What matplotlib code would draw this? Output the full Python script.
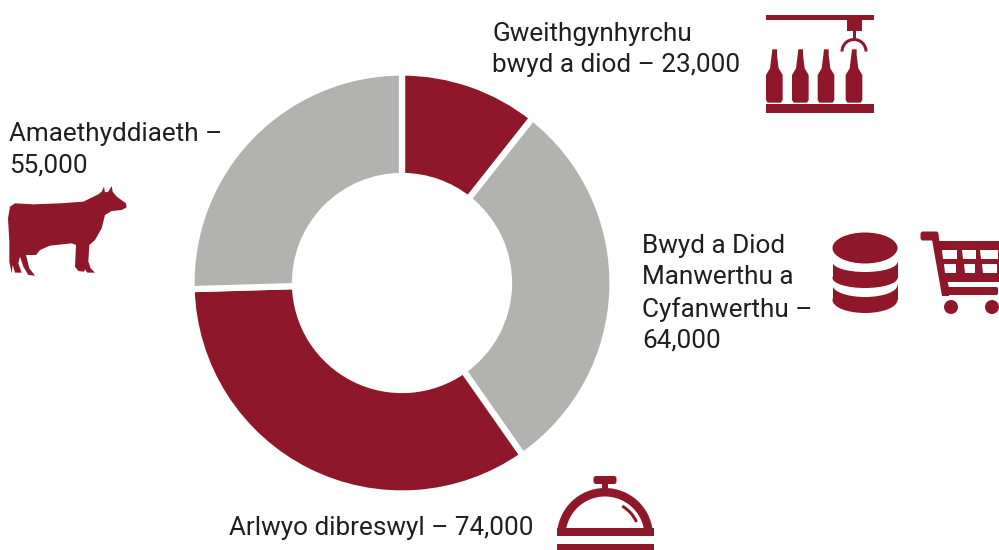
import numpy as np
import matplotlib
matplotlib.use("Agg")
import matplotlib.pyplot as plt
from matplotlib.patches import Polygon, Rectangle, Circle, Ellipse, Wedge, FancyBboxPatch

RED = "#8e1829"
GREY = "#b2b2b1"
TXT = "#1f1f1f"

sectors = ["Gweithgynhyrchu bwyd a diod", "Bwyd a Diod Manwerthu a Cyfanwerthu",
           "Arlwyo dibreswyl", "Amaethyddiaeth"]
values = [23000, 64000, 74000, 55000]
colors = [RED, GREY, RED, GREY]

labels = ["Gweithgynhyrchu\nbwyd a diod – 23,000",
          "Bwyd a Diod\nManwerthu a\nCyfanwerthu –\n64,000",
          "Arlwyo dibreswyl – 74,000",
          "Amaethyddiaeth –\n55,000"]
label_pos = [(492, 22), (642, 234), (229, 516), (9, 122)]

cow = [(30,95),(45,85),(100,88),(180,85),(250,80),(295,58),(305,50),(312,35),(315,52),(325,50),
       (335,33),(338,50),(350,65),(378,85),(380,97),(365,105),(335,108),(315,120),(305,160),
       (285,195),(268,210),(265,260),(272,280),(285,293),(262,293),(255,283),(252,290),(235,288),
       (225,275),(228,210),(215,205),(150,212),(120,225),(108,240),(78,240),(88,280),(105,302),
       (85,300),(70,275),(60,245),(55,265),(65,293),(45,293),(38,270),(35,295),(28,260),(28,200),(24,130)]
bottle = [(67,148),(81,148),(81,165),(86,205),(98,225),(98,300),(93,308),(53,308),(48,300),
          (48,225),(60,205),(65,165)]


def main():
    fig = plt.figure(figsize=(9.99, 5.5), dpi=100)

    # donut, y runs up on this axes
    ax_pie = fig.add_axes([0, 0, 1, 1])
    ax_pie.pie(values, colors=colors, startangle=90, counterclock=False, center=(402, 550 - 283),
               radius=210.5, frame=True, wedgeprops=dict(width=103.5, edgecolor="white", linewidth=4.5))
    ax_pie.set_xlim(0, 999)
    ax_pie.set_ylim(0, 550)
    ax_pie.axis("off")

    # pixel coords for labels and icons
    ax = fig.add_axes([0, 0, 1, 1])
    ax.set_xlim(0, 999)
    ax.set_ylim(550, 0)
    ax.axis("off")
    ax.patch.set_alpha(0)

    for s, p in zip(labels, label_pos):
        ax.text(p[0], p[1], s, family="Roboto", fontsize=18.8, color=TXT, va="top", ha="left", linespacing=1.38)

    # factory icon
    def z1(p):
        return (750 + p[0] / 3, p[1] / 3)
    ax.add_patch(Rectangle((766, 15), 108, 5, color=RED, lw=0))
    ax.add_patch(Rectangle((847, 20), 15, 11, color=RED, lw=0))
    ax.add_patch(Rectangle((852.5, 31), 3.5, 8, color=RED, lw=0))
    ax.add_patch(Rectangle((766, 104), 108, 8.5, color=RED, lw=0))
    ax.add_patch(Wedge((854, 51.5), 13.5, 180, 360, width=3, color=RED, lw=0))
    for dx in [0, 78, 155, 239]:
        ax.add_patch(Polygon([z1((x + dx, y)) for x, y in bottle], color=RED, lw=0))

    # database icon
    ax.add_patch(Rectangle((832.5, 285), 65, 15, color=RED, lw=0))
    ax.add_patch(Ellipse((865, 300), 65, 26, color=RED, lw=0))
    ax.add_patch(Ellipse((865, 285), 65, 24, color="white", lw=0))
    ax.add_patch(Rectangle((832.5, 262), 65, 16, color=RED, lw=0))
    ax.add_patch(Ellipse((865, 278), 65, 20, color=RED, lw=0))
    ax.add_patch(Ellipse((865, 262), 65, 20, color="white", lw=0))
    ax.add_patch(Ellipse((865, 248), 65, 31, color=RED, lw=0))

    # trolley icon
    ax.add_patch(FancyBboxPatch((923, 234), 13, 4, boxstyle="round,pad=2.5", color=RED, lw=0))
    ax.add_patch(Polygon([(931, 234), (938, 234), (949, 288), (949, 296), (942, 296)], color=RED, lw=0))
    ax.add_patch(Polygon([(936, 241), (999, 241), (999, 282), (943, 282)], color=RED, lw=0))
    ax.add_patch(FancyBboxPatch((944, 289), 52, 4, boxstyle="round,pad=2", color=RED, lw=0))
    for x0, x1 in [(942, 957), (962, 976), (980, 998)]:
        ax.add_patch(Polygon([(x0, 250), (x1, 250), (x1, 259), (x0 + 1, 259)], color="white", lw=0))
        ax.add_patch(Polygon([(x0 + 2, 264), (x1 - 1, 264), (x1 - 1, 273), (x0 + 3, 273)], color="white", lw=0))
    ax.add_patch(Circle((951, 307), 7, color=RED, lw=0))
    ax.add_patch(Circle((992, 307), 7, color=RED, lw=0))

    # cow icon
    ax.add_patch(Polygon([(x / 3, 175 + y / 3) for x, y in cow], color=RED, lw=0))

    # cloche icon
    ax.add_patch(FancyBboxPatch((596, 478.5), 18, 3, boxstyle="round,pad=2.5", color=RED, lw=0))
    ax.add_patch(Rectangle((602, 483), 6, 7, color=RED, lw=0))
    ax.add_patch(Wedge((605, 536), 48, 180, 360, width=8.5, color=RED, lw=0))
    ax.add_patch(Rectangle((557, 528), 96.5, 8, color=RED, lw=0))
    ax.add_patch(Rectangle((557, 544), 96.5, 6, color=RED, lw=0))
    ax.add_patch(Wedge((605, 536), 36, 300, 336, width=3, color=RED, lw=0))

    fig.savefig("out.png", dpi=100)


if __name__ == "__main__":
    main()
